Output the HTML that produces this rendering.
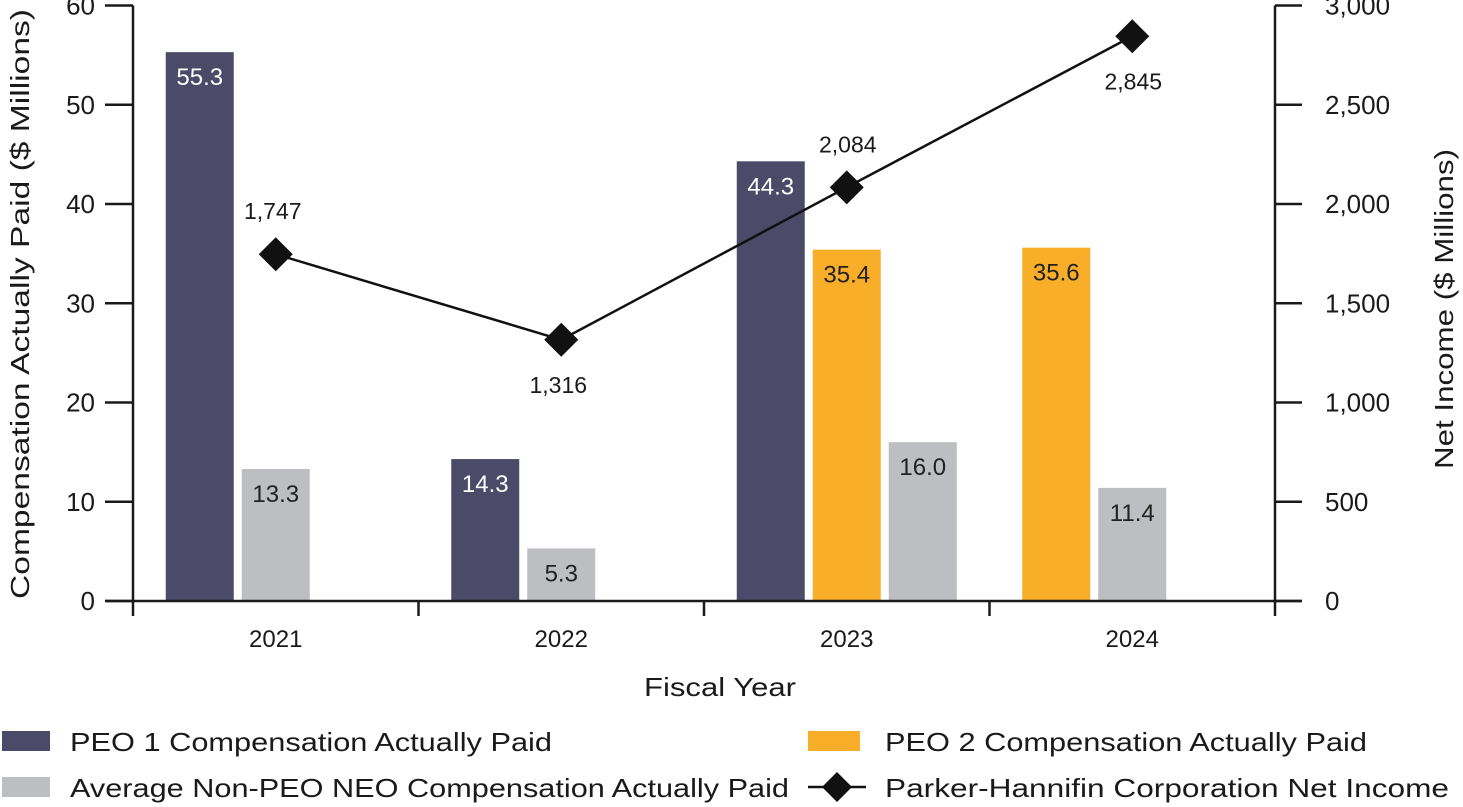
<!DOCTYPE html>
<html><head><meta charset="utf-8">
<style>
html,body{margin:0;padding:0;background:#fff;}
svg{display:block;font-family:"Liberation Sans",sans-serif;}
</style></head>
<body>
<svg id="chart" width="1463" height="807" viewBox="0 0 1463 807"></svg>
<script>
const categories = ["2021","2022","2023","2024"];
const peo1 = [55.3, 14.3, 44.3, null];
const peo2 = [null, null, 35.4, 35.6];
const nonPeo = [13.3, 5.3, 16.0, 11.4];
const netIncome = [1747, 1316, 2084, 2845];
const netIncomeLabels = ["1,747","1,316","2,084","2,845"];
const leftTicks = [0,10,20,30,40,50,60];
const rightTicks = [0,500,1000,1500,2000,2500,3000];
const rightTickLabels = ["0","500","1,000","1,500","2,000","2,500","3,000"];

const svg = document.getElementById('chart');
const NS = "http://www.w3.org/2000/svg";
function mk(tag, attrs, parent){const e=document.createElementNS(NS,tag);for(const k in attrs)e.setAttribute(k,attrs[k]);(parent||svg).appendChild(e);return e;}
const X0=133, X1=1275, Y0=601, Y1=5.5;
const yL = v => Y0 - (v/60)*(Y0-Y1);
const yR = v => Y0 - (v/3000)*(Y0-Y1);
const catW = (X1-X0)/categories.length;
const xC = i => X0 + catW*(i+0.5);
const BW=68, STEP=76;

const series=[{d:peo1,c:"#4b4b69",t:"#fff",n:"peo1"},{d:peo2,c:"#f9ae2a",t:"#222",n:"peo2"},{d:nonPeo,c:"#bdbec2",t:"#222",n:"non-peo"}];
categories.forEach((cat,i)=>{
  let k=0;
  series.forEach(s=>{
    const v=s.d[i]; if(v==null) return;
    const cx=xC(i)+(k-1)*STEP; k++;
    const r=mk('rect',{x:cx-BW/2,y:yL(v),width:BW,height:Y0-yL(v),fill:s.c});
    
    
    const t=mk('text',{x:cx,y:yL(v)+33,'text-anchor':'middle','font-size':24,fill:s.t});
    t.textContent=v.toFixed(1);
    
    
  });
});

const ax=mk('g',{stroke:"#1a1a1a","stroke-width":2.5,fill:"none"});


mk('line',{x1:X0,y1:Y1,x2:X0,y2:Y0},ax);
mk('line',{x1:X1,y1:Y1,x2:X1,y2:Y0},ax);
mk('line',{x1:105,y1:Y0,x2:1302,y2:Y0},ax);
leftTicks.forEach(v=>{
  mk('line',{x1:105,y1:yL(v),x2:X0,y2:yL(v)},ax);
  const t=mk('text',{x:95,y:yL(v)+9,'text-anchor':'end','font-size':26,fill:"#1a1a1a"});
  t.textContent=v;
  
  
});
rightTicks.forEach((v,i)=>{
  mk('line',{x1:X1,y1:yR(v),x2:1302,y2:yR(v)},ax);
  const t=mk('text',{x:1325,y:yR(v)+9,'font-size':26,fill:"#1a1a1a"});
  t.textContent=rightTickLabels[i];
  
  
});
for(let i=0;i<=categories.length;i++){
  const x=X0+catW*i;
  mk('line',{x1:x,y1:Y0,x2:x,y2:616},ax);
}
categories.forEach((c,i)=>{
  const t=mk('text',{x:xC(i),y:647,'text-anchor':'middle','font-size':24,fill:"#1a1a1a"});
  t.textContent=c;
  
  
});

const pts=netIncome.map((v,i)=>xC(i)+','+yR(v)).join(' ');
const pl=mk('polyline',{points:pts,fill:"none",stroke:"#111","stroke-width":2.5});


netIncome.forEach((v,i)=>{
  const x=xC(i), y=yR(v), r=17;
  const d=mk('polygon',{points:`${x},${y-r} ${x+r},${y} ${x},${y+r} ${x-r},${y}`,fill:"#111"});
  
  
  const above = (i===0||i===2);
  const t=mk('text',{x:x+(i===3?1:(i===2?1:-3)),y:above?y-35:y+53,'text-anchor':'middle','font-size':23,fill:"#1a1a1a"});
  t.textContent=netIncomeLabels[i];
  
  
});

let t=mk('text',{x:0,y:0,transform:"translate(29,304) rotate(-90)",'text-anchor':'middle','font-size':26,fill:"#1a1a1a",textLength:590,lengthAdjust:"spacingAndGlyphs"});
t.textContent="Compensation Actually Paid ($ Millions)";


t=mk('text',{x:0,y:0,transform:"translate(1453,309) rotate(-90)",'text-anchor':'middle','font-size':26,fill:"#1a1a1a",textLength:320,lengthAdjust:"spacingAndGlyphs"});
t.textContent="Net Income ($ Millions)";


t=mk('text',{x:720,y:696,'text-anchor':'middle','font-size':26,fill:"#1a1a1a",textLength:152,lengthAdjust:"spacingAndGlyphs"});
t.textContent="Fiscal Year";



function legendText(x,y,txt,len,name){
  const e=mk('text',{x:x,y:y,'font-size':26,fill:"#1a1a1a",textLength:len,lengthAdjust:"spacingAndGlyphs"});
  e.textContent=txt;
  
  
}
let s=mk('rect',{x:2,y:731,width:48,height:20,fill:"#4b4b69"});


legendText(70,751,"PEO 1 Compensation Actually Paid",482,'legend-label-peo1');
s=mk('rect',{x:2,y:777,width:48,height:20,fill:"#bdbec2"});


legendText(70,797,"Average Non-PEO NEO Compensation Actually Paid",719,'legend-label-non-peo');
s=mk('rect',{x:808,y:731,width:52,height:20,fill:"#f9ae2a"});


legendText(885,751,"PEO 2 Compensation Actually Paid",482,'legend-label-peo2');
s=mk('line',{x1:808,y1:787,x2:866,y2:787,stroke:"#111","stroke-width":2.5});


s=mk('polygon',{points:"837,772 852,787 837,802 822,787",fill:"#111"});


legendText(885,797,"Parker-Hannifin Corporation Net Income",564,'legend-label-net-income');
</script>
</body></html>
